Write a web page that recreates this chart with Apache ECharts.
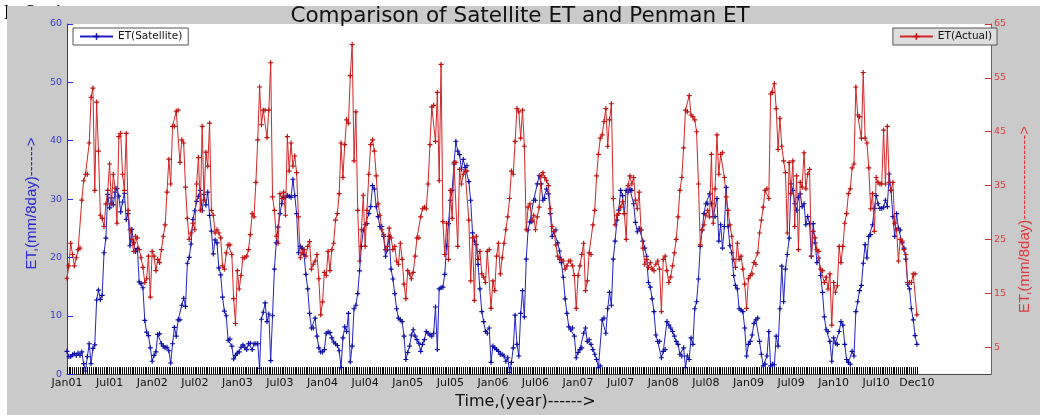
<!DOCTYPE html>
<html>
<head>
<meta charset="utf-8">
<script src="https://cdn.jsdelivr.net/npm/echarts@6/dist/echarts.min.js"></script>
<style>
html,body{margin:0;padding:0;background:#fff;}
#chart{width:1040px;height:415px;}
</style>
</head>
<body>
<div id="chart"></div>
<script>
// ET(Satellite), mm/8day, 46 composites per year, Jan 2001 - Dec 2010
const satelliteET = [
  3.9,3.0,3.0,3.3,3.5,3.2,3.6,3.2,3.8,1.8,0.5,3.0,5.2,1.8,4.4,5.0,12.7,14.4,12.8,13.5,20.8,23.3,30.8,28.5,30.2,29.0,31.2,31.8,30.5,27.8,29.5,31.0,26.5,27.5,22.0,24.8,22.5,21.0,21.5,15.8,15.5,14.8,9.2,7.2,6.6,4.5,
  2.2,3.2,3.8,6.8,6.9,5.2,4.8,4.5,4.6,4.0,1.9,5.2,8.0,6.5,9.3,9.3,11.8,13.0,11.6,19.0,20.0,22.3,26.5,28.0,29.6,30.5,31.5,28.0,30.8,29.0,31.2,27.2,24.5,20.6,23.0,22.5,18.2,17.0,13.2,10.8,10.0,5.8,6.0,4.8,2.6,3.2,
  3.6,3.8,4.6,5.0,4.6,4.2,5.2,5.3,4.2,5.2,5.2,5.2,1.0,9.4,10.6,12.2,9.0,10.3,2.3,10.0,18.0,22.5,25.2,27.5,29.2,30.3,30.3,30.6,30.5,30.3,33.4,30.6,27.5,20.8,21.9,21.6,20.5,17.1,14.6,10.4,7.9,7.9,9.6,6.5,4.5,3.8,
  3.8,4.2,7.0,7.2,7.1,6.2,5.5,5.2,4.9,4.0,1.1,6.2,8.1,7.3,10.4,2.1,4.8,11.2,11.8,13.8,17.7,21.9,24.7,25.6,25.8,27.5,28.7,32.3,31.7,28.7,27.0,25.3,25.3,23.6,20.2,21.3,23.6,18.0,16.3,13.8,11.2,9.6,9.3,9.0,6.5,2.5,
  3.7,4.8,6.7,7.6,6.5,5.9,5.3,3.9,5.1,5.9,7.3,7.0,6.7,6.5,7.0,11.5,4.2,14.6,14.8,14.9,17.1,21.9,25.8,29.8,31.5,36.0,39.9,38.2,37.6,35.1,36.8,35.4,35.7,33.0,29.8,24.2,22.8,22.2,18.8,14.6,10.7,9.0,7.3,7.0,7.9,2.0,
  4.8,4.5,4.2,3.9,3.4,3.4,3.1,2.2,2.8,0.3,2.0,4.5,10.1,5.1,3.1,10.4,14.3,9.8,19.7,24.7,26.1,26.1,29.8,29.8,32.6,34.0,32.6,29.8,30.1,31.7,30.9,27.5,23.6,24.4,24.7,22.5,21.1,19.1,16.6,12.9,10.4,8.1,7.6,7.9,6.5,2.8,
  3.7,4.2,4.5,7.0,7.9,5.6,5.9,5.1,4.2,3.4,2.5,1.1,1.4,9.3,9.6,7.0,11.2,14.0,11.8,19.7,22.8,26.4,28.1,31.5,30.6,27.5,31.5,31.2,31.7,31.5,29.2,26.0,24.4,25.0,24.7,22.8,21.6,20.2,15.7,14.9,12.9,10.7,6.7,5.6,5.6,2.8,
  3.9,4.2,9.0,8.4,7.9,7.3,6.5,5.6,5.1,3.4,3.1,4.5,1.1,3.1,2.5,6.2,5.1,11.2,12.4,16.3,21.9,24.7,27.5,29.2,29.2,30.9,29.2,27.0,27.0,30.1,22.8,25.6,21.6,25.3,32.0,25.3,22.0,20.8,16.9,15.2,14.6,11.2,11.0,10.7,7.9,3.1,
  5.1,5.6,6.7,8.7,9.3,9.6,5.6,3.4,1.4,1.7,3.1,7.3,1.4,1.7,1.6,6.5,4.8,11.2,18.5,12.4,18.0,20.5,23.3,32.6,31.5,29.2,28.1,30.3,30.9,28.7,29.2,25.6,27.0,25.8,20.2,25.8,22.5,19.1,19.9,16.9,14.0,9.8,7.6,7.3,5.6,2.2,
  6.2,5.3,5.1,7.3,9.0,8.4,5.1,2.5,2.0,1.7,3.9,3.1,10.7,12.4,14.3,15.2,19.0,22.2,19.9,23.6,23.9,25.6,28.4,30.6,29.2,28.4,28.4,28.6,29.8,28.7,34.3,31.5,27.0,23.6,27.5,25.0,24.7,22.5,21.6,19.7,15.4,14.6,11.2,9.3,6.6,5.1
];
// ET(Actual) (Penman), mm/8day, same dates
const actualET = [
  17.8,20.1,24.3,22.2,20.1,21.6,23.1,23.4,32.3,35.9,37.1,37.1,42.9,51.4,53.1,34.1,50.5,41.4,29.5,28.9,27.4,31.6,34.1,39.0,31.6,37.1,34.5,28.0,44.1,44.7,37.1,34.1,44.7,30.4,26.8,25.0,22.8,25.6,25.3,23.1,21.6,19.8,17.0,17.7,21.9,14.3,
  22.8,21.9,19.2,21.3,20.7,23.1,25.6,27.7,33.8,39.9,35.3,46.0,46.0,48.8,49.0,39.3,43.5,42.9,34.7,28.9,25.0,26.2,28.0,26.8,35.3,40.2,30.4,46.0,32.3,41.2,38.6,46.6,30.4,29.5,26.2,26.8,26.2,25.3,20.1,19.5,22.5,24.0,24.0,22.2,14.0,9.4,
  19.2,15.8,18.3,21.6,21.6,21.9,23.1,25.9,29.8,29.2,35.6,43.5,53.3,46.3,49.0,49.0,43.9,49.0,57.8,32.9,30.4,25.6,24.3,33.5,32.6,33.8,29.5,44.1,37.7,42.9,38.6,40.5,37.4,29.2,21.6,22.5,23.1,21.9,23.7,24.6,19.5,20.4,21.0,22.2,17.7,11.0,
  13.4,18.9,18.3,22.8,19.2,23.1,24.3,28.6,29.8,33.5,42.9,36.5,42.6,47.2,46.6,55.4,61.2,39.6,48.7,30.4,21.0,26.8,33.2,23.7,30.4,37.1,42.6,43.5,41.4,36.8,31.6,29.5,26.8,25.9,23.1,23.7,27.1,25.3,23.1,23.7,21.0,20.4,24.3,21.3,16.7,14.0,
  19.2,18.6,17.7,18.9,21.9,25.3,25.3,29.2,30.7,31.0,30.7,35.3,42.6,49.6,49.9,43.2,52.3,35.9,57.5,28.3,22.2,28.0,21.3,34.1,28.9,39.3,39.3,23.7,38.0,35.3,37.1,37.7,37.7,28.6,17.3,25.3,13.7,25.6,21.3,22.8,18.6,18.0,17.0,22.8,23.1,12.2,
  17.3,15.5,21.9,24.3,18.6,21.6,24.3,26.8,29.2,32.6,37.7,37.1,43.2,49.3,48.7,43.8,49.0,42.3,26.8,31.0,31.6,28.6,29.5,26.8,29.2,31.0,36.8,37.4,36.5,35.9,35.0,30.7,27.4,26.5,24.0,21.9,21.3,21.3,21.0,19.5,20.1,21.0,21.0,20.1,18.3,12.2,
  18.3,20.1,22.2,24.3,15.5,17.3,22.5,22.2,27.7,30.4,36.8,40.8,43.8,44.4,46.9,49.3,42.3,47.2,50.2,32.6,27.7,29.5,29.8,31.0,32.0,29.8,25.0,35.0,36.8,35.3,36.5,32.3,30.7,33.8,26.8,23.4,20.4,21.3,19.8,20.7,19.5,19.2,20.4,21.0,19.5,11.6,
  21.3,21.9,19.2,17.0,18.0,20.1,22.5,25.0,29.2,34.1,36.5,42.0,49.0,48.7,51.7,48.1,47.8,47.2,45.0,35.3,24.0,26.8,27.7,29.5,30.4,29.2,40.8,28.0,34.4,44.4,37.1,40.8,41.1,36.5,32.9,30.4,27.7,25.6,21.3,19.8,24.3,21.3,21.9,19.5,16.7,12.2,
  17.7,18.3,18.6,20.7,20.4,22.5,26.2,28.6,31.0,34.1,34.4,32.6,52.0,52.3,53.9,49.3,41.7,47.5,42.3,39.6,37.4,26.2,39.3,33.5,39.6,27.4,36.8,23.1,35.6,34.7,41.1,34.4,37.1,38.0,21.9,26.5,25.3,23.1,22.8,19.5,19.2,17.0,18.0,15.8,18.6,9.1,
  17.0,15.2,16.4,23.7,20.7,23.7,28.0,29.8,33.5,34.4,38.3,39.0,53.3,48.1,47.8,43.8,56.0,43.8,42.9,38.3,30.7,33.5,26.5,36.5,35.6,35.3,35.3,45.3,35.3,46.0,35.6,34.1,35.6,28.0,26.8,21.0,25.0,24.7,23.1,22.2,17.0,17.0,17.0,18.6,18.6,11.0
];
const tickLabels = ['Jan01','Jul01','Jan02','Jul02','Jan03','Jul03','Jan04','Jul04','Jan05','Jul05',
  'Jan06','Jul06','Jan07','Jul07','Jan08','Jul08','Jan09','Jul09','Jan10','Jul10','Dec10'];
const tickPositions = [0,23,46,69,92,115,138,161,184,207,230,253,276,299,322,345,368,391,414,437,459];
const leftTicks = [0,10,20,30,40,50,60];
const rightTicks = [5,15,25,35,45,55,65];

const chart = echarts.init(document.getElementById('chart'), null, {renderer: 'canvas'});
const idx = satelliteET.map((_, i) => i);
const H = 'DejaVu Sans';
const V = 'Liberation Sans';
const plus = 'path://M-0.7,-3H0.7V-0.7H3V0.7H0.7V3H-0.7V0.7H-3V-0.7H-0.7Z';
const BLUE_AX = '#2b2bd6', RED_AX = '#d83434';

chart.setOption({
  animation: false,
  backgroundColor: '#ffffff',
  textStyle: {fontFamily: H},
  title: {
    text: 'Comparison of Satellite ET and Penman ET',
    left: 'center', top: 5, padding: [0, 0, 0, 20],
    textStyle: {fontFamily: H, fontSize: 21.5, fontWeight: 'normal', color: '#111'}
  },
  graphic: [
    {type: 'text', x: 4, y: 4, z: -10, silent: true,
     style: {text: 'ly Station', fontFamily: 'Liberation Serif', fontSize: 20, fill: '#000', verticalAlign: 'alphabetic'}},
    {type: 'rect', z: -5, silent: true, shape: {x: 7, y: 6, width: 1033, height: 409}, style: {fill: '#cacaca'}}
  ],
  grid: {left: 67, right: 38, top: 24, bottom: 35, show: true, backgroundColor: '#ffffff', borderWidth: 0},
  legend: [
    {data: ['ET(Satellite)'], left: 73, top: 28, padding: [3, 6, 3, 6], itemWidth: 33, itemHeight: 8,
     backgroundColor: '#ffffff', borderColor: '#555', borderWidth: 1, borderRadius: 0,
     textStyle: {fontFamily: H, fontSize: 10.5, color: '#111'}},
    {data: ['ET(Actual)'], right: 43, top: 28, padding: [3, 5, 3, 6], itemWidth: 33, itemHeight: 8,
     backgroundColor: '#dedede', borderColor: '#555', borderWidth: 1, borderRadius: 0,
     textStyle: {fontFamily: H, fontSize: 10.5, color: '#111'}}
  ],
  xAxis: {
    type: 'value', min: 0, max: 499,
    axisLine: {show: true, onZero: false, lineStyle: {color: '#444', width: 1}},
    axisTick: {show: true, inside: true, length: 7, customValues: idx, lineStyle: {color: '#000', width: 1}},
    axisLabel: {customValues: tickPositions, formatter: v => tickLabels[tickPositions.indexOf(v)],
      color: '#111', fontFamily: H, fontSize: 11, margin: 4},
    splitLine: {show: false},
    name: 'Time,(year)------>', nameLocation: 'middle', nameGap: 17,
    nameTextStyle: {fontFamily: H, fontSize: 16, color: '#111', padding: [0, 7, 0, 0]}
  },
  yAxis: [
    {type: 'value', min: 0, max: 60, interval: 10, position: 'left',
     axisLine: {show: true, lineStyle: {color: BLUE_AX, width: 1}},
     axisTick: {show: true, inside: true, length: 6, lineStyle: {color: BLUE_AX}},
     axisLabel: {customValues: leftTicks, color: '#3a3ad2', fontFamily: H, fontSize: 9.5, margin: 5},
     splitLine: {show: false},
     name: 'ET,(mm/8day)------>', nameLocation: 'middle', nameGap: 28,
     nameTextStyle: {fontFamily: V, fontSize: 15, color: '#2828d8', padding: [0, 9, 0, 0]}},
    {type: 'value', min: 0, max: 65, position: 'right',
     axisLine: {show: true, lineStyle: {color: RED_AX, width: 1}},
     axisTick: {show: true, inside: true, length: 6, customValues: rightTicks, lineStyle: {color: RED_AX}},
     axisLabel: {customValues: rightTicks, color: '#d84040', fontFamily: H, fontSize: 9.5, margin: 3},
     splitLine: {show: false},
     name: 'ET,(mm/8day)----------------->', nameLocation: 'middle', nameGap: 24,
     nameTextStyle: {fontFamily: V, fontSize: 15, color: '#e03a3a', padding: [0, 41, 0, 0]}}
  ],
  series: [
    {name: 'ET(Satellite)', type: 'line', yAxisIndex: 0, z: 2,
     data: idx.map(i => [i, satelliteET[i]]),
     symbol: plus, symbolSize: 5,
     lineStyle: {color: '#2222c4', width: 1}, itemStyle: {color: '#0c0ca8'}},
    {name: 'ET(Actual)', type: 'line', yAxisIndex: 1, z: 3,
     data: idx.map(i => [i, actualET[i]]),
     symbol: plus, symbolSize: 5,
     lineStyle: {color: '#d42626', width: 1}, itemStyle: {color: '#c01010'}}
  ]
});
</script>
</body>
</html>
